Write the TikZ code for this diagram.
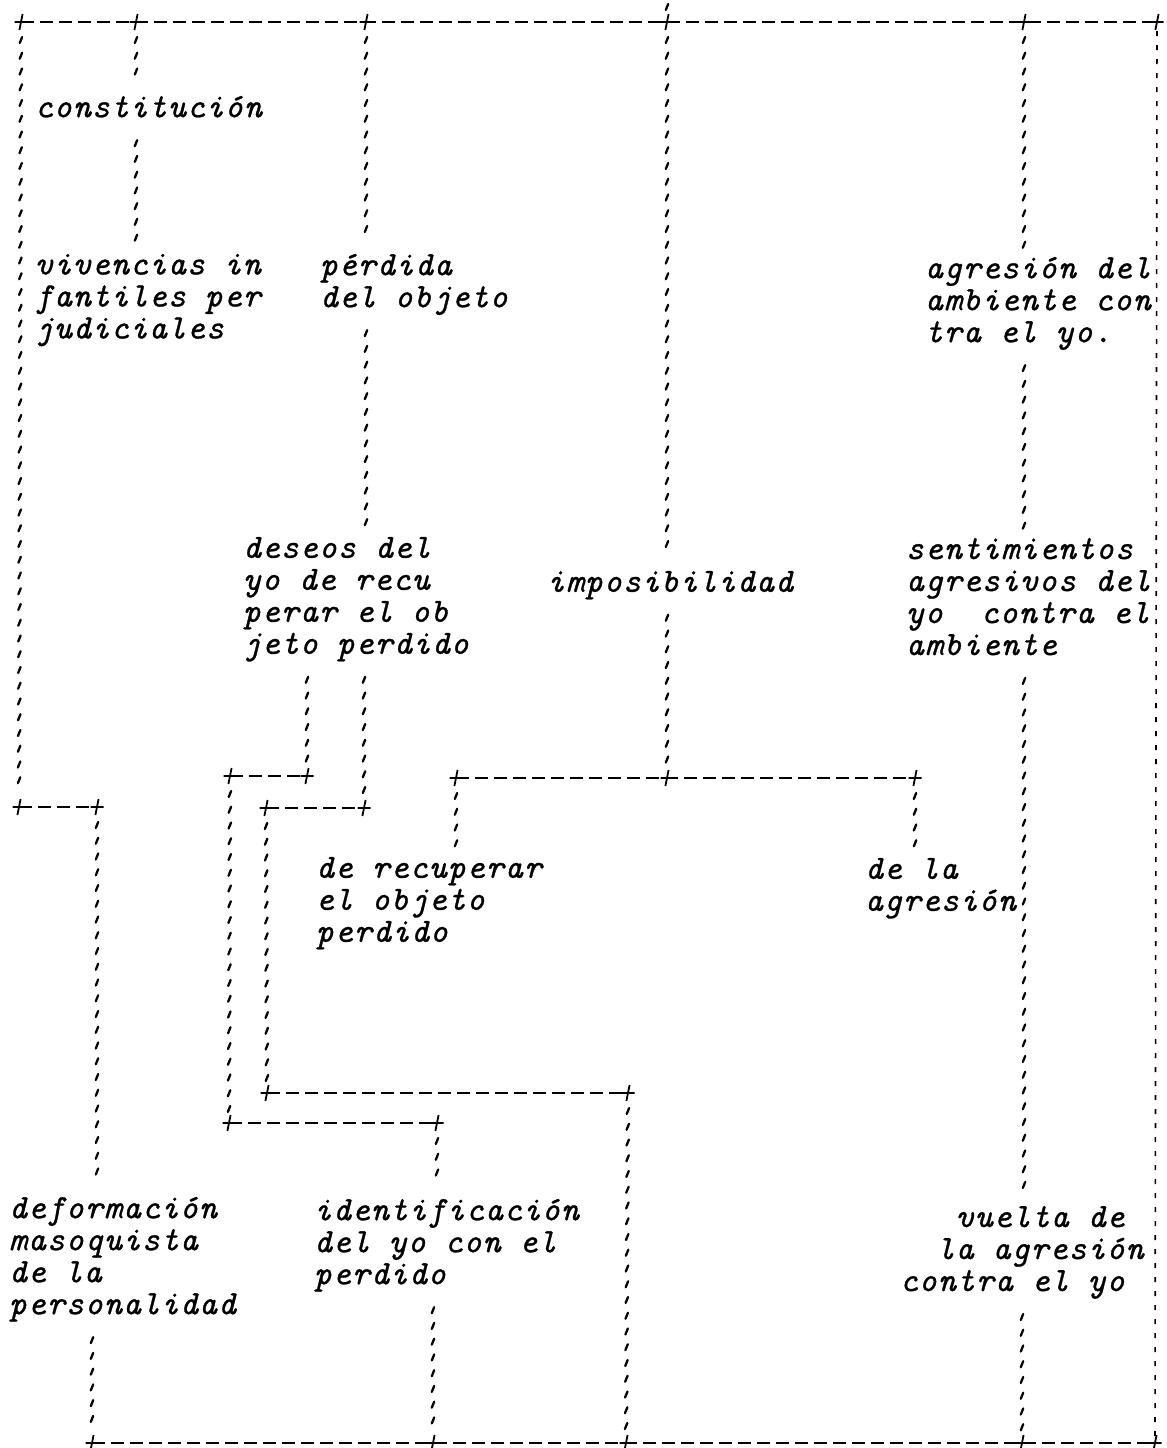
\documentclass[tikz,border=0pt]{standalone}
\usepackage{fontspec}
\usetikzlibrary{decorations.markings}
\newfontfamily\tw{lmmono10-italic.otf}[FakeBold=0.9,LetterSpace=3.4]
\newcommand\st{\rule[-4pt]{0pt}{13pt}}
\newcommand\twfont{\tw\fontsize{17pt}{16pt}\selectfont\lineskiplimit=-100pt\relax}
\tikzset{
  lbl/.style={font=\twfont, anchor=north west, align=left, inner sep=0pt, outer sep=0pt},
  tick/.style={solid, line width=1.15pt, line cap=round},
  vl/.style={decoration={markings, mark=between positions 9pt and -6pt step 7.875pt with {\draw[tick] (-1.5pt,0.6pt) -- (1.5pt,-0.6pt);}}, postaction={decorate}},
  vlshort/.style={decoration={markings, mark=at position 3.5pt with {\draw[tick] (-1.5pt,0.6pt) -- (1.5pt,-0.6pt);}}, postaction={decorate}},
  hl/.style={line width=0.7pt, dash pattern=on 6.5pt off 3pt},
  vr/.style={line width=0.8pt, dash pattern=on 2.4pt off 4.6pt, dash phase=2.4pt},
  plus/.pic={\draw[line width=0.9pt] (-6.5,0) -- (6.5,0) (-1.6,8) -- (1.6,-8);}
}
\begin{document}
\begin{tikzpicture}[x=0.5pt,y=-0.5pt]
\fill[white] (0,0) rectangle (1167,1448);
\useasboundingbox (0,0) rectangle (1167,1448);

% junction points
\coordinate (in0) at (667,0);
\coordinate (T1) at (21,22);
\coordinate (T2) at (136,22);
\coordinate (T3) at (366,22);
\coordinate (T4) at (667,22);
\coordinate (T5) at (1024,22);
\coordinate (T6) at (1157,22);
\coordinate (L1) at (19,807);
\coordinate (L2) at (97,807);
\coordinate (P1) at (230,776);
\coordinate (P2) at (307,776);
\coordinate (M1) at (266,808);
\coordinate (M2) at (364,808);
\coordinate (I1) at (456,778);
\coordinate (I2) at (667,778);
\coordinate (I3) at (915,778);
\coordinate (R1) at (267,1093);
\coordinate (R2) at (628,1093);
\coordinate (Q1) at (229,1123);
\coordinate (Q2) at (437,1123);
\coordinate (B1) at (92,1443);
\coordinate (B2) at (433,1443);
\coordinate (B3) at (626,1443);
\coordinate (B4) at (1022,1443);
\coordinate (B5) at (1155,1443);

% texts
\node[lbl] (con) at (35,96) {\st constitución};
\node[lbl] (viv) at (35,254) {\st vivencias in\\\st fantiles per\\\st judiciales};
\node[lbl] (per) at (320,254) {\st pérdida\\\st del objeto};
\node[lbl] (agr) at (925,257) {\st agresión del\\\st ambiente con\\\st tra el yo.};
\node[lbl] (des) at (243,537) {\st deseos del\\\st yo de recu\\\st perar el ob\\\st jeto perdido};
\node[lbl] (imp) at (547,571) {\st imposibilidad};
\node[lbl] (sen) at (906,538) {\st sentimientos\\\st agresivos del\\\st yo~~contra el\\\st ambiente};
\node[lbl] (rec) at (316,857) {\st de recuperar\\\st el objeto\\\st perdido};
\node[lbl] (dla) at (865,858) {\st de la\\\st agresión};
\node[lbl] (def) at (9,1197) {\st deformación\\\st masoquista\\\st de la\\\st personalidad};
\node[lbl] (ide) at (314,1199) {\st identificación\\\st del yo con el\\\st perdido};
\node[lbl] (vue) at (900,1206) {\st\phantom{xxx}vuelta de\\\st\phantom{xx}la agresión\\\st contra el yo};

% horizontal connectors
\draw[hl] (T1) -- (T6);
\draw[hl] (L1) -- (L2);
\draw[hl] (P1) -- (P2);
\draw[hl] (M1) -- (M2);
\draw[hl] (I1) -- (I3);
\draw[hl] (R1) -- (R2);
\draw[hl] (Q1) -- (Q2);
\draw[hl] (B1) -- (B5);

% vertical connectors
\path[vlshort] (in0) -- (T4);
\path[vl] (T1) -- (L1);
\path[vl] (T2) -- (T2 |- con.north);
\path[vl] (T2 |- con.south) -- (T2 |- viv.north);
\path[vl] (T3) -- (T3 |- per.north);
\path[vl] (T3 |- per.south) -- (T3 |- des.north);
\path[vl] (P2 |- des.south) -- (P2);
\path[vl] (M2 |- des.south) -- (M2);
\path[vl] (P1) -- (Q1);
\path[vl] (M1) -- (R1);
\path[vl] (R2) -- (B3);
\path[vl] (Q2) -- (Q2 |- ide.north);
\path[vl] (B2 |- ide.south) -- (B2);
\path[vl] (L2) -- (L2 |- def.north);
\path[vl] (B1 |- def.south) -- (B1);
\path[vl] (T4) -- (T4 |- imp.north);
\path[vl] (T4 |- imp.south) -- (I2);
\path[vl] (I1) -- (I1 |- rec.north);
\path[vl] (I3) -- (I3 |- dla.north);
\path[vl] (T5) -- (T5 |- agr.north);
\path[vl] (T5 |- agr.south) -- (T5 |- sen.north);
\path[vl] (T5 |- sen.south) -- (T5 |- vue.north);
\path[vl] (B4 |- vue.south) -- (B4);
\draw[vr] (T6) -- (B5);

% plus marks
\foreach \n in {T1,T2,T3,T4,T5,T6,L1,L2,P1,P2,M1,M2,I1,I2,I3,R1,R2,Q1,Q2,B1,B2,B3,B4,B5}
  \pic at (\n) {plus};
\end{tikzpicture}
\end{document}
